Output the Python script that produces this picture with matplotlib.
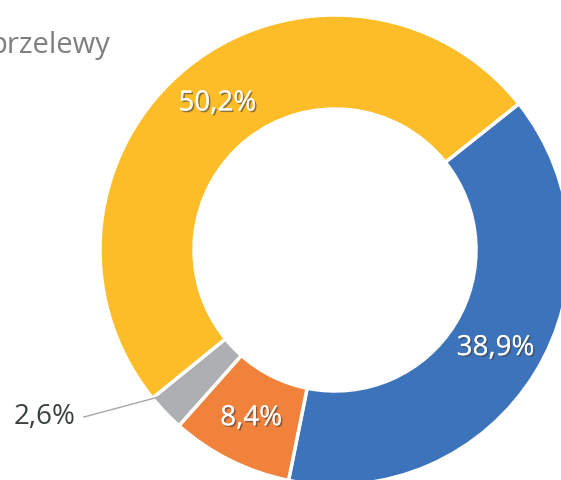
import matplotlib.pyplot as plt
import matplotlib.patheffects as pe
import numpy as np

labels = ["Karta", "Gotówka", "Inne", "przelewy"]
shares = [38.9, 8.4, 2.6, 50.2]
colors = ["#3C73BB", "#F0823C", "#AEAFB2", "#FDBD28"]
pct_text = ["38,9%", "8,4%", "2,6%", "50,2%"]

plt.rcParams["font.family"] = ["Open Sans", "DejaVu Sans"]

W, H = 561, 480
fig = plt.figure(figsize=(W / 100, H / 100), dpi=100)
# chart is larger than the canvas (cropped view)
cx, cy, r = 335, 250, 235
ax = fig.add_axes([(cx - r) / W, (H - cy - r) / H, 2 * r / W, 2 * r / H])

wedges, _ = ax.pie(
    shares, colors=colors, startangle=38.5, counterclock=False, radius=1,
    wedgeprops=dict(width=0.4, edgecolor="white", linewidth=2.5),
)
ax.set_xlim(-1, 1)
ax.set_ylim(-1, 1)
ax.set_aspect("equal")
ax.axis("off")

shadow = [pe.withSimplePatchShadow(offset=(1.2, -1.2), shadow_rgbFace="#444444", alpha=0.6),
          pe.Normal()]
for w, txt in zip(wedges, pct_text):
    ang = np.deg2rad((w.theta1 + w.theta2) / 2)
    x, y = 0.8 * np.cos(ang), 0.8 * np.sin(ang)
    if txt == "2,6%":
        ex, ey = 0.97 * np.cos(np.deg2rad(-140)), 0.97 * np.sin(np.deg2rad(-140))
        ax.annotate(txt, xy=(ex, ey), xytext=(-1.105, -0.71), fontsize=20, color="#3A4040",
                    ha="right", va="center", annotation_clip=False,
                    arrowprops=dict(arrowstyle="-", color="#A6A6A6", lw=1,
                                    shrinkA=4, shrinkB=0,
                                    connectionstyle="angle,angleA=0,angleB=15,rad=0"))
        continue
    ax.text(x, y, txt, ha="center", va="center", fontsize=20, color="white",
            path_effects=shadow)

# legend entry, cut off at the left edge as in the original crop
fig.text(110 / W, 1 - 46 / H, labels[3], ha="right", va="center", fontsize=21, color="#7F7F7F")

fig.savefig("out.png", dpi=100)
